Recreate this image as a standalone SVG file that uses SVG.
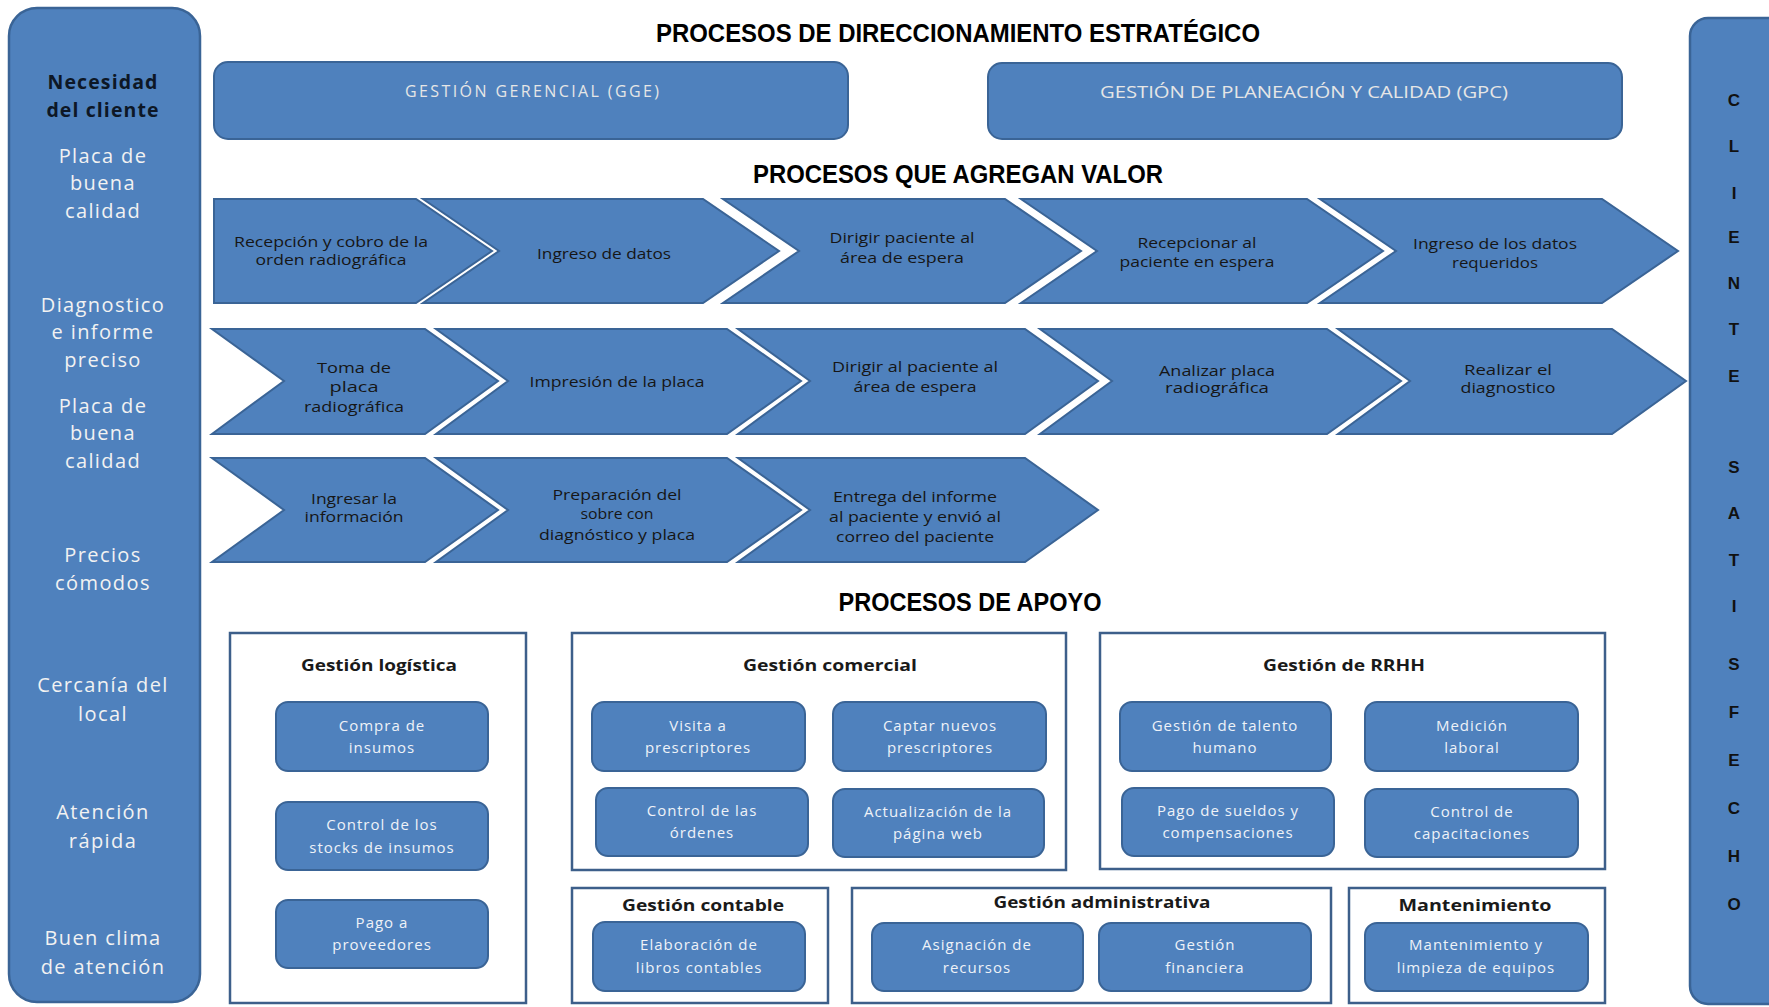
<svg xmlns="http://www.w3.org/2000/svg" width="1769" height="1007" viewBox="0 0 1769 1007">
<style>
  .panel{fill:#4f81bd;stroke:#3a6496;stroke-width:2.5}
  .blk{fill:#4f81bd;stroke:#3a6496;stroke-width:2}
  .frame{fill:#fff;stroke:#3d5f8a;stroke-width:2.5}
  .head{font-family:"Liberation Sans",Arial,sans-serif;font-weight:bold;fill:#000;text-anchor:middle}
  .side{font-family:"Open Sans","DejaVu Sans",sans-serif;font-size:20px;letter-spacing:1.4px;fill:#f2f2f2;text-anchor:middle}
  .need{font-family:"Open Sans","DejaVu Sans",sans-serif;font-size:19.5px;letter-spacing:1.1px;font-weight:bold;fill:#0d1726;text-anchor:middle}
  .top{font-family:"Open Sans","DejaVu Sans",sans-serif;font-size:16px;fill:#e6e6e6;text-anchor:middle}
  .chev{font-family:"Open Sans","DejaVu Sans",sans-serif;font-size:15px;fill:#161616;text-anchor:middle}
  .sub{font-family:"Open Sans","DejaVu Sans",sans-serif;font-size:15px;letter-spacing:1px;fill:#eef2f8;text-anchor:middle}
  .gt{font-family:"Open Sans","DejaVu Sans",sans-serif;font-weight:bold;font-size:16px;fill:#1a1a1a;text-anchor:middle}
  .ltr{font-family:"Liberation Sans",Arial,sans-serif;font-weight:bold;font-size:17px;fill:#111;text-anchor:middle}
</style>

<rect width="1769" height="1007" fill="#fff"/>

<!-- customer needs column -->
<g id="necesidad-cliente">
  <rect class="panel" x="9" y="8" width="191" height="994" rx="28"/>
  <text class="need" x="103" y="89">Necesidad</text>
  <text class="need" x="103" y="117">del cliente</text>
  <text class="side" x="103" y="163">Placa de</text>
  <text class="side" x="103" y="190">buena</text>
  <text class="side" x="103" y="218">calidad</text>
  <text class="side" x="103" y="312">Diagnostico</text>
  <text class="side" x="103" y="339">e informe</text>
  <text class="side" x="103" y="367">preciso</text>
  <text class="side" x="103" y="413">Placa de</text>
  <text class="side" x="103" y="440">buena</text>
  <text class="side" x="103" y="468">calidad</text>
  <text class="side" x="103" y="562">Precios</text>
  <text class="side" x="103" y="590">cómodos</text>
  <text class="side" x="103" y="692">Cercanía del</text>
  <text class="side" x="103" y="721">local</text>
  <text class="side" x="103" y="819">Atención</text>
  <text class="side" x="103" y="848">rápida</text>
  <text class="side" x="103" y="945">Buen clima</text>
  <text class="side" x="103" y="974">de atención</text>
</g>

<!-- satisfied customer column -->
<g id="cliente-satisfecho">
  <rect class="panel" x="1690" y="18" width="110" height="986" rx="18"/>
  <text class="ltr" x="1734" y="106">C</text>
  <text class="ltr" x="1734" y="152">L</text>
  <text class="ltr" x="1734" y="199">I</text>
  <text class="ltr" x="1734" y="243">E</text>
  <text class="ltr" x="1734" y="289">N</text>
  <text class="ltr" x="1734" y="335">T</text>
  <text class="ltr" x="1734" y="382">E</text>
  <text class="ltr" x="1734" y="473">S</text>
  <text class="ltr" x="1734" y="519">A</text>
  <text class="ltr" x="1734" y="566">T</text>
  <text class="ltr" x="1734" y="612">I</text>
  <text class="ltr" x="1734" y="670">S</text>
  <text class="ltr" x="1734" y="718">F</text>
  <text class="ltr" x="1734" y="766">E</text>
  <text class="ltr" x="1734" y="814">C</text>
  <text class="ltr" x="1734" y="862">H</text>
  <text class="ltr" x="1734" y="910">O</text>
</g>

<!-- section headings -->
<g id="titulos">
  <text class="head" x="958" y="42" font-size="26" textLength="604" lengthAdjust="spacingAndGlyphs">PROCESOS DE DIRECCIONAMIENTO ESTRATÉGICO</text>
  <text class="head" x="958" y="183" font-size="25" textLength="410" lengthAdjust="spacingAndGlyphs">PROCESOS QUE AGREGAN VALOR</text>
  <text class="head" x="970" y="611" font-size="25" textLength="263" lengthAdjust="spacingAndGlyphs">PROCESOS DE APOYO</text>
</g>

<!-- strategic processes -->
<g id="gge">
  <rect class="blk" x="214" y="62" width="634" height="77" rx="14"/>
  <text class="top" x="532" y="97" textLength="254" lengthAdjust="spacing">GESTIÓN  GERENCIAL (GGE)</text>
</g>
<g id="gpc">
  <rect class="blk" x="988" y="63" width="634" height="76" rx="14"/>
  <text class="top" x="1304" y="98" textLength="408" lengthAdjust="spacingAndGlyphs">GESTIÓN  DE PLANEACIÓN Y CALIDAD (GPC)</text>
</g>

<!-- value chain, row 1 -->
<g id="recepcion-cobro">
  <polygon class="blk" points="214,199 416,199 492,251 416,303 214,303"/>
  <text class="chev" x="331" y="247" textLength="194" lengthAdjust="spacingAndGlyphs">Recepción y cobro de la</text>
  <text class="chev" x="331" y="265" textLength="151" lengthAdjust="spacingAndGlyphs">orden radiográfica</text>
</g>
<g id="ingreso-datos">
  <polygon class="blk" points="423,199 703,199 779,251 703,303 423,303 499,251"/>
  <text class="chev" x="604" y="259" textLength="134" lengthAdjust="spacingAndGlyphs">Ingreso de datos</text>
</g>
<g id="dirigir-paciente">
  <polygon class="blk" points="723,199 1005,199 1081,251 1005,303 723,303 799,251"/>
  <text class="chev" x="902" y="243" textLength="145" lengthAdjust="spacingAndGlyphs">Dirigir paciente al</text>
  <text class="chev" x="902" y="263" textLength="124" lengthAdjust="spacingAndGlyphs">área de espera</text>
</g>
<g id="recepcionar-paciente">
  <polygon class="blk" points="1021,199 1307,199 1383,251 1307,303 1021,303 1097,251"/>
  <text class="chev" x="1197" y="248" textLength="119" lengthAdjust="spacingAndGlyphs">Recepcionar al</text>
  <text class="chev" x="1197" y="267" textLength="155" lengthAdjust="spacingAndGlyphs">paciente en espera</text>
</g>
<g id="ingreso-datos-requeridos">
  <polygon class="blk" points="1320,199 1602,199 1678,251 1602,303 1320,303 1396,251"/>
  <text class="chev" x="1495" y="249" textLength="164" lengthAdjust="spacingAndGlyphs">Ingreso de los datos</text>
  <text class="chev" x="1495" y="268" textLength="86" lengthAdjust="spacingAndGlyphs">requeridos</text>
</g>

<!-- value chain, row 2 -->
<g id="toma-placa">
  <polygon class="blk" points="212,329 425,329 498,381 425,434 212,434 284,381"/>
  <text class="chev" x="354" y="373" textLength="74" lengthAdjust="spacingAndGlyphs">Toma de</text>
  <text class="chev" x="354" y="392" textLength="49" lengthAdjust="spacingAndGlyphs">placa</text>
  <text class="chev" x="354" y="412" textLength="100" lengthAdjust="spacingAndGlyphs">radiográfica</text>
</g>
<g id="impresion-placa">
  <polygon class="blk" points="436,329 727,329 801,381 727,434 436,434 508,381"/>
  <text class="chev" x="617" y="387" textLength="175" lengthAdjust="spacingAndGlyphs">Impresión de la placa</text>
</g>
<g id="dirigir-paciente-espera">
  <polygon class="blk" points="738,329 1025,329 1098,381 1025,434 738,434 810,381"/>
  <text class="chev" x="915" y="372" textLength="166" lengthAdjust="spacingAndGlyphs">Dirigir al paciente al</text>
  <text class="chev" x="915" y="392" textLength="123" lengthAdjust="spacingAndGlyphs">área de espera</text>
</g>
<g id="analizar-placa">
  <polygon class="blk" points="1040,329 1327,329 1401,381 1327,434 1040,434 1112,381"/>
  <text class="chev" x="1217" y="376" textLength="116" lengthAdjust="spacingAndGlyphs">Analizar placa</text>
  <text class="chev" x="1217" y="393" textLength="104" lengthAdjust="spacingAndGlyphs">radiográfica</text>
</g>
<g id="realizar-diagnostico">
  <polygon class="blk" points="1338,329 1612,329 1686,381 1612,434 1338,434 1410,381"/>
  <text class="chev" x="1508" y="375" textLength="88" lengthAdjust="spacingAndGlyphs">Realizar el</text>
  <text class="chev" x="1508" y="393" textLength="95" lengthAdjust="spacingAndGlyphs">diagnostico</text>
</g>

<!-- value chain, row 3 -->
<g id="ingresar-informacion">
  <polygon class="blk" points="212,458 425,458 498,510 425,562 212,562 284,510"/>
  <text class="chev" x="354" y="504" textLength="86" lengthAdjust="spacingAndGlyphs">Ingresar la</text>
  <text class="chev" x="354" y="522" textLength="99" lengthAdjust="spacingAndGlyphs">información</text>
</g>
<g id="preparacion-sobre">
  <polygon class="blk" points="436,458 727,458 801,510 727,562 436,562 508,510"/>
  <text class="chev" x="617" y="500" textLength="129" lengthAdjust="spacingAndGlyphs">Preparación del</text>
  <text class="chev" x="617" y="519" textLength="73" lengthAdjust="spacingAndGlyphs">sobre con</text>
  <text class="chev" x="617" y="540" textLength="156" lengthAdjust="spacingAndGlyphs">diagnóstico y placa</text>
</g>
<g id="entrega-informe">
  <polygon class="blk" points="738,458 1025,458 1098,510 1025,562 738,562 810,510"/>
  <text class="chev" x="915" y="502" textLength="164" lengthAdjust="spacingAndGlyphs">Entrega del informe</text>
  <text class="chev" x="915" y="522" textLength="172" lengthAdjust="spacingAndGlyphs">al paciente y envió al</text>
  <text class="chev" x="915" y="542" textLength="158" lengthAdjust="spacingAndGlyphs">correo del paciente</text>
</g>

<!-- support processes -->
<g id="gestion-logistica">
  <rect class="frame" x="230" y="633" width="296" height="370"/>
  <text class="gt" x="379" y="671" textLength="156" lengthAdjust="spacingAndGlyphs">Gestión logística</text>
  <rect class="blk" x="276" y="702" width="212" height="69" rx="12"/>
  <text class="sub" x="382" y="731">Compra de</text>
  <text class="sub" x="382" y="753">insumos</text>
  <rect class="blk" x="276" y="802" width="212" height="68" rx="12"/>
  <text class="sub" x="382" y="830">Control de los</text>
  <text class="sub" x="382" y="853">stocks de insumos</text>
  <rect class="blk" x="276" y="900" width="212" height="68" rx="12"/>
  <text class="sub" x="382" y="928">Pago a</text>
  <text class="sub" x="382" y="950">proveedores</text>
</g>

<g id="gestion-comercial">
  <rect class="frame" x="572" y="633" width="494" height="237"/>
  <text class="gt" x="830" y="671" textLength="174" lengthAdjust="spacingAndGlyphs">Gestión comercial</text>
  <rect class="blk" x="592" y="702" width="213" height="69" rx="12"/>
  <text class="sub" x="698" y="731">Visita a</text>
  <text class="sub" x="698" y="753">prescriptores</text>
  <rect class="blk" x="833" y="702" width="213" height="69" rx="12"/>
  <text class="sub" x="940" y="731">Captar nuevos</text>
  <text class="sub" x="940" y="753">prescriptores</text>
  <rect class="blk" x="596" y="788" width="212" height="68" rx="12"/>
  <text class="sub" x="702" y="816">Control de las</text>
  <text class="sub" x="702" y="838">órdenes</text>
  <rect class="blk" x="833" y="789" width="211" height="68" rx="12"/>
  <text class="sub" x="938" y="817">Actualización de la</text>
  <text class="sub" x="938" y="839">página web</text>
</g>

<g id="gestion-rrhh">
  <rect class="frame" x="1100" y="633" width="505" height="236"/>
  <text class="gt" x="1344" y="671" textLength="162" lengthAdjust="spacingAndGlyphs">Gestión de RRHH</text>
  <rect class="blk" x="1120" y="702" width="211" height="69" rx="12"/>
  <text class="sub" x="1225" y="731">Gestión de talento</text>
  <text class="sub" x="1225" y="753">humano</text>
  <rect class="blk" x="1365" y="702" width="213" height="69" rx="12"/>
  <text class="sub" x="1472" y="731">Medición</text>
  <text class="sub" x="1472" y="753">laboral</text>
  <rect class="blk" x="1122" y="788" width="212" height="68" rx="12"/>
  <text class="sub" x="1228" y="816">Pago de sueldos y</text>
  <text class="sub" x="1228" y="838">compensaciones</text>
  <rect class="blk" x="1365" y="789" width="213" height="68" rx="12"/>
  <text class="sub" x="1472" y="817">Control de</text>
  <text class="sub" x="1472" y="839">capacitaciones</text>
</g>

<g id="gestion-contable">
  <rect class="frame" x="572" y="888" width="256" height="115"/>
  <text class="gt" x="703" y="911" textLength="162" lengthAdjust="spacingAndGlyphs">Gestión contable</text>
  <rect class="blk" x="593" y="922" width="212" height="69" rx="12"/>
  <text class="sub" x="699" y="950">Elaboración de</text>
  <text class="sub" x="699" y="973">libros contables</text>
</g>

<g id="gestion-administrativa">
  <rect class="frame" x="852" y="888" width="479" height="115"/>
  <text class="gt" x="1102" y="908" textLength="217" lengthAdjust="spacingAndGlyphs">Gestión administrativa</text>
  <rect class="blk" x="872" y="923" width="211" height="68" rx="12"/>
  <text class="sub" x="977" y="950">Asignación de</text>
  <text class="sub" x="977" y="973">recursos</text>
  <rect class="blk" x="1099" y="923" width="212" height="68" rx="12"/>
  <text class="sub" x="1205" y="950">Gestión</text>
  <text class="sub" x="1205" y="973">financiera</text>
</g>

<g id="mantenimiento">
  <rect class="frame" x="1349" y="888" width="256" height="115"/>
  <text class="gt" x="1475" y="911" textLength="153" lengthAdjust="spacingAndGlyphs">Mantenimiento</text>
  <rect class="blk" x="1365" y="923" width="223" height="68" rx="12"/>
  <text class="sub" x="1476" y="950">Mantenimiento y</text>
  <text class="sub" x="1476" y="973">limpieza de equipos</text>
</g>

<g id="connectors"></g>
</svg>
